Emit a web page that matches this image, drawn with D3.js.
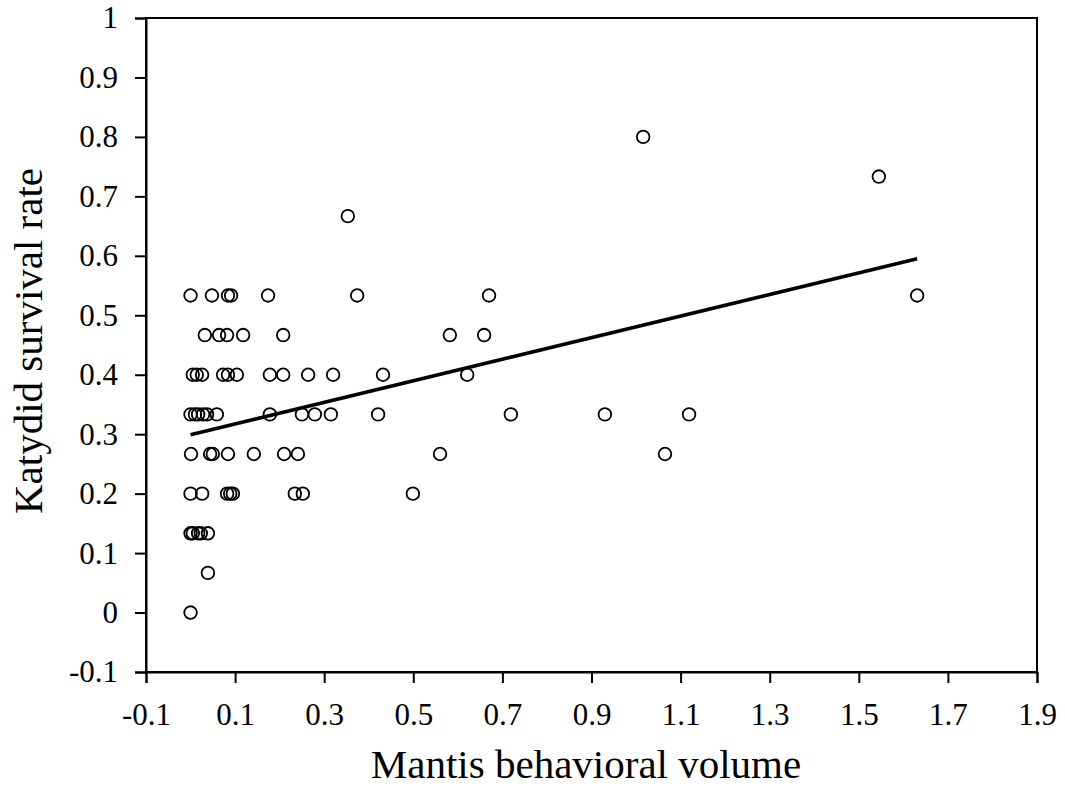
<!DOCTYPE html>
<html>
<head>
<meta charset="utf-8">
<script src="https://cdn.jsdelivr.net/npm/d3@7"></script>
<style>
  html, body { margin: 0; padding: 0; background: #fff; }
  svg text { font-family: "Liberation Serif", "Times New Roman", serif; fill: #000; }
</style>
</head>
<body>
<svg id="chart" width="1065" height="788"></svg>
<script>
// Mantis behavioral volume (x) and Katydid survival rate (y)
const xVals = [
  // 0.533 row
  0.0, 0.048, 0.084, 0.091, 0.174, 0.374, 0.670, 1.631,
  // 0.8, 0.733, 0.667
  1.016, 1.545, 0.353,
  // 0.467 row
  0.032, 0.064, 0.082, 0.118, 0.208, 0.582, 0.659,
  // 0.4 row
  0.005, 0.014, 0.026, 0.073, 0.084, 0.104, 0.178, 0.208, 0.264, 0.320, 0.432, 0.621,
  // 0.333 row
  0.0, 0.010, 0.017, 0.028, 0.037, 0.059, 0.178, 0.250, 0.279, 0.315, 0.421, 0.719, 0.930, 1.119,
  // 0.267 row
  0.001, 0.044, 0.050, 0.084, 0.142, 0.210, 0.241, 0.560, 1.065,
  // 0.2 row
  0.0, 0.026, 0.082, 0.089, 0.095, 0.234, 0.252, 0.499,
  // 0.133 row
  0.0, 0.005, 0.017, 0.023, 0.039,
  // 0.067, 0
  0.039, 0.0
];
const yVals = [
  0.5333, 0.5333, 0.5333, 0.5333, 0.5333, 0.5333, 0.5333, 0.5333,
  0.8, 0.7333, 0.6667,
  0.4667, 0.4667, 0.4667, 0.4667, 0.4667, 0.4667, 0.4667,
  0.4, 0.4, 0.4, 0.4, 0.4, 0.4, 0.4, 0.4, 0.4, 0.4, 0.4, 0.4,
  0.3333, 0.3333, 0.3333, 0.3333, 0.3333, 0.3333, 0.3333, 0.3333, 0.3333, 0.3333, 0.3333, 0.3333, 0.3333, 0.3333,
  0.2667, 0.2667, 0.2667, 0.2667, 0.2667, 0.2667, 0.2667, 0.2667, 0.2667,
  0.2, 0.2, 0.2, 0.2, 0.2, 0.2, 0.2, 0.2,
  0.1333, 0.1333, 0.1333, 0.1333, 0.1333,
  0.0667, 0.0
];
// Fitted regression line endpoints
const fitX = [0.0, 1.631];
const fitY = [0.299, 0.595];

const xTicks = [-0.1, 0.1, 0.3, 0.5, 0.7, 0.9, 1.1, 1.3, 1.5, 1.7, 1.9];
const yTicks = [-0.1, 0, 0.1, 0.2, 0.3, 0.4, 0.5, 0.6, 0.7, 0.8, 0.9, 1];
const xTitle = "Mantis behavioral volume";
const yTitle = "Katydid survival rate";

const svg = d3.select("#chart");
const mLeft = 146, mRight = 1037, mTop = 18, mBottom = 672;

const x = d3.scaleLinear().domain([-0.1, 1.9]).range([mLeft, mRight]);
const y = d3.scaleLinear().domain([-0.1, 1]).range([mBottom, mTop]);

// frame (top and right)
svg.append("rect")
  .attr("x", mLeft).attr("y", mTop)
  .attr("width", mRight - mLeft).attr("height", mBottom - mTop)
  .attr("fill", "none").attr("stroke", "#000").attr("stroke-width", 2);

const fmt = d => (Math.abs(d) < 1e-9 ? "0" : String(+d.toFixed(1)));

// x axis
const xAxis = svg.append("g").attr("transform", `translate(0,${mBottom})`)
  .call(d3.axisBottom(x).tickValues(xTicks).tickSize(11).tickPadding(20).tickFormat(fmt));
// y axis
const yAxis = svg.append("g").attr("transform", `translate(${mLeft},0)`)
  .call(d3.axisLeft(y).tickValues(yTicks).tickSize(11).tickPadding(17).tickFormat(fmt));

[xAxis, yAxis].forEach(g => {
  g.select(".domain").attr("stroke", "#000").attr("stroke-width", 2);
  g.selectAll(".tick line").attr("stroke", "#000").attr("stroke-width", 2);
  g.selectAll(".tick text")
    .style("font-family", '"Liberation Serif", "Times New Roman", serif')
    .style("font-size", "31px").attr("fill", "#000");
});

// points
const pts = xVals.map((v, i) => ({ x: v, y: yVals[i] }));
svg.append("g").selectAll("circle").data(pts).enter().append("circle")
  .attr("cx", d => x(d.x)).attr("cy", d => y(d.y)).attr("r", 6.3)
  .attr("fill", "none").attr("stroke", "#000").attr("stroke-width", 1.8);

// regression line
svg.append("path")
  .datum(fitX.map((v, i) => [v, fitY[i]]))
  .attr("d", d3.line().x(d => x(d[0])).y(d => y(d[1])))
  .attr("fill", "none").attr("stroke", "#000").attr("stroke-width", 3.5);

// axis titles
svg.append("text")
  .attr("x", 586).attr("y", 778)
  .attr("text-anchor", "middle")
  .style("font-size", "41px")
  .text(xTitle);

svg.append("text")
  .attr("transform", "translate(42,341) rotate(-90)")
  .attr("text-anchor", "middle")
  .style("font-size", "41px")
  .text(yTitle);
</script>
</body>
</html>
